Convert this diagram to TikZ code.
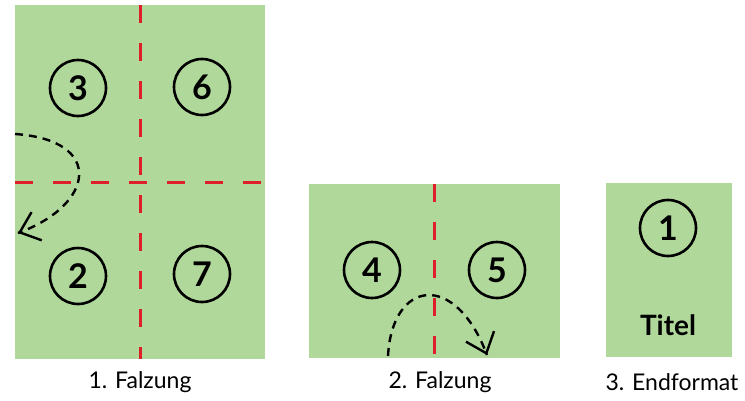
\documentclass[tikz,border=0pt]{standalone}
\usepackage{fontspec}
\setmainfont{Lato}
\usetikzlibrary{arrows.meta,calc}

\definecolor{papergreen}{RGB}{177,216,155}
\definecolor{foldred}{RGB}{222,30,40}

\tikzset{
    sheet/.style={fill=papergreen, inner sep=0pt, anchor=north west},
    page/.style={draw, circle, line width=2.6pt, minimum size=56pt,
        inner sep=0pt, font=\fontsize{34}{34}\selectfont\bfseries},
    foldline/.style={draw=foldred, line width=2.6pt, dash pattern=on 18pt off 20pt},
    turn/.style={line width=2.4pt, dash pattern=on 8pt off 6pt},
    turntip/.style={line width=2.4pt, solid,
        -{Straight Barb[length=18pt, width=30pt, line width=2.4pt]}},
    caption/.style={font=\fontsize{23}{23}\selectfont}
}

\begin{document}
\begin{tikzpicture}[x=1pt, y=-1pt]
        \useasboundingbox (0,0) rectangle (745,400);

        % 1. Falzung
        \node [sheet,
            minimum width=250pt,
            minimum height=354pt,
        ] (sheetA) at (15,5) {};
        \draw[foldline] (sheetA.north) -- (sheetA.south);
        \draw[foldline] (sheetA.west) -- (sheetA.east);
        \node [page] (pthree) at (78,88) {3};
        \node [page] (psix) at (202,87) {6};
        \node [page] (ptwo) at (78,276) {2};
        \node [page] (pseven) at (202,274) {7};
        \coordinate (turnAstart) at (15,134);
        \coordinate (turnActrl) at (95,205);
        \coordinate (turnAend) at (18,233);
        \draw[turn] (turnAstart) .. controls (105,140) and (turnActrl) .. (turnAend);
        \draw[turntip] ($(turnAend)!1pt!(turnActrl)$) -- (turnAend);
        \node [caption] (capA) at (140,382) {1. Falzung};

        % 2. Falzung
        \node [sheet,
            minimum width=251pt,
            minimum height=174pt,
        ] (sheetB) at (309,184) {};
        \draw[foldline] (sheetB.north) -- (sheetB.south);
        \node [page] (pfour) at (372,270) {4};
        \node [page] (pfive) at (497,270) {5};
        \coordinate (turnBstart) at (388,356);
        \coordinate (turnBctrl) at (455,270);
        \coordinate (turnBend) at (487,355);
        \draw[turn] (turnBstart) .. controls (392,280) and (turnBctrl) .. (turnBend);
        \draw[turntip] ($(turnBend)!1pt!(turnBctrl)$) -- (turnBend);
        \node [caption] (capB) at (440,382) {2. Falzung};

        % 3. Endformat
        \node [sheet,
            minimum width=126pt,
            minimum height=174pt,
        ] (sheetC) at (606,183) {};
        \node [page] (pone) at (668,228) {1};
        \node [font=\fontsize{28}{28}\selectfont\bfseries] (title) at (668,325) {Titel};
        \node [caption] (capC) at (672,382) {3. Endformat};
\end{tikzpicture}
\end{document}
